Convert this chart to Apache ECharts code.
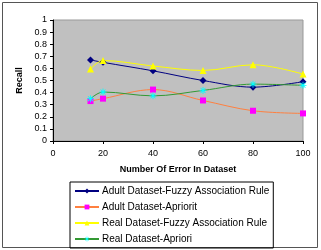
<!DOCTYPE html>
<html>
<head>
<meta charset="utf-8">
<script src="https://cdn.jsdelivr.net/npm/echarts@6/dist/echarts.min.js"></script>
<style>
    html, body { margin: 0; padding: 0; background: #fff; }
    #chart { width: 321px; height: 250px; }
</style>
</head>
<body>
<div id="chart"></div>
<script>
    // error counts on the x axis
    const errors = [15, 20, 40, 60, 80, 100];
    const adultFuzzy = [0.67, 0.65, 0.58, 0.50, 0.445, 0.49];
    const adultApriorit = [0.33, 0.35, 0.425, 0.335, 0.25, 0.228];
    const realFuzzy = [0.595, 0.665, 0.62, 0.583, 0.63, 0.553];
    const realApriori = [0.35, 0.405, 0.373, 0.418, 0.47, 0.46];
    const seriesNames = [
        'Adult Dataset-Fuzzy Association Rule',
        'Adult Dataset-Apriorit',
        'Real Dataset-Fuzzy Association Rule',
        'Real Dataset-Apriori'
    ];

    const asterisk = 'path://M-0.6,-5L0.6,-5L0.6,5L-0.6,5Z M-5,-0.6L5,-0.6L5,0.6L-5,0.6Z M-3.9,-3.1L-3.1,-3.9L3.9,3.1L3.1,3.9Z M3.1,-3.9L3.9,-3.1L-3.1,3.9L-3.9,3.1Z';

    function pairs(vals) {
        return errors.map((x, i) => [x, vals[i]]);
    }

    function makeSeries(name, vals, lineColor, symColor, symbol, size) {
        return {
            name: name,
            type: 'line',
            data: pairs(vals),
            smooth: 0.35,
            symbol: symbol,
            symbolSize: size,
            lineStyle: { color: lineColor, width: 1 },
            itemStyle: { color: symColor },
            emphasis: { disabled: true }
        };
    }

    const option = {
        animation: false,
        textStyle: { fontFamily: 'Liberation Sans, Arial, sans-serif' },
        graphic: [{
            type: 'rect',
            shape: { x: 2.5, y: 2.5, width: 315, height: 245 },
            style: { fill: null, stroke: '#555', lineWidth: 1 },
            silent: true
        }],
        grid: {
            left: 53, right: 18, top: 20, bottom: 109,
            show: true,
            backgroundColor: '#c0c0c0',
            borderColor: '#999',
            borderWidth: 1
        },
        xAxis: {
            type: 'value',
            min: 0, max: 100, interval: 20,
            name: 'Number Of Error In Dataset',
            nameLocation: 'middle',
            nameGap: 24,
            nameTextStyle: { fontSize: 9, fontWeight: 'bold', color: '#000' },
            axisLine: { lineStyle: { color: '#000' } },
            axisTick: { lineStyle: { color: '#000' }, length: 3 },
            axisLabel: { fontSize: 9, color: '#000', margin: 8 },
            splitLine: { show: false }
        },
        yAxis: {
            type: 'value',
            min: 0, max: 1, interval: 0.1,
            name: 'Recall',
            nameLocation: 'middle',
            nameGap: 27,
            nameTextStyle: { fontSize: 9, fontWeight: 'bold', color: '#000' },
            axisLine: { show: true, lineStyle: { color: '#000' } },
            axisTick: { show: true, lineStyle: { color: '#000' }, length: 3 },
            axisLabel: { fontSize: 9, color: '#000', margin: 6 },
            splitLine: { show: false }
        },
        legend: {
            orient: 'vertical',
            left: 70,
            top: 182,
            width: 203,
            padding: [4, 4, 4, 4],
            itemWidth: 24,
            itemHeight: 6,
            itemGap: 6,
            borderColor: '#000',
            borderWidth: 1,
            textStyle: { fontSize: 10, color: '#000', padding: [0, 0, 0, -2] },
            data: seriesNames
        },
        series: [
            makeSeries(seriesNames[0], adultFuzzy, '#000080', '#000080', 'diamond', 7),
            makeSeries(seriesNames[1], adultApriorit, '#ff8040', '#ff00ff', 'rect', 6),
            makeSeries(seriesNames[2], realFuzzy, '#ffff00', '#ffff00', 'triangle', 7),
            makeSeries(seriesNames[3], realApriori, '#339933', '#00ffff', asterisk, 7)
        ]
    };

    const myChart = echarts.init(document.getElementById('chart'));
    myChart.setOption(option);
</script>
</body>
</html>
